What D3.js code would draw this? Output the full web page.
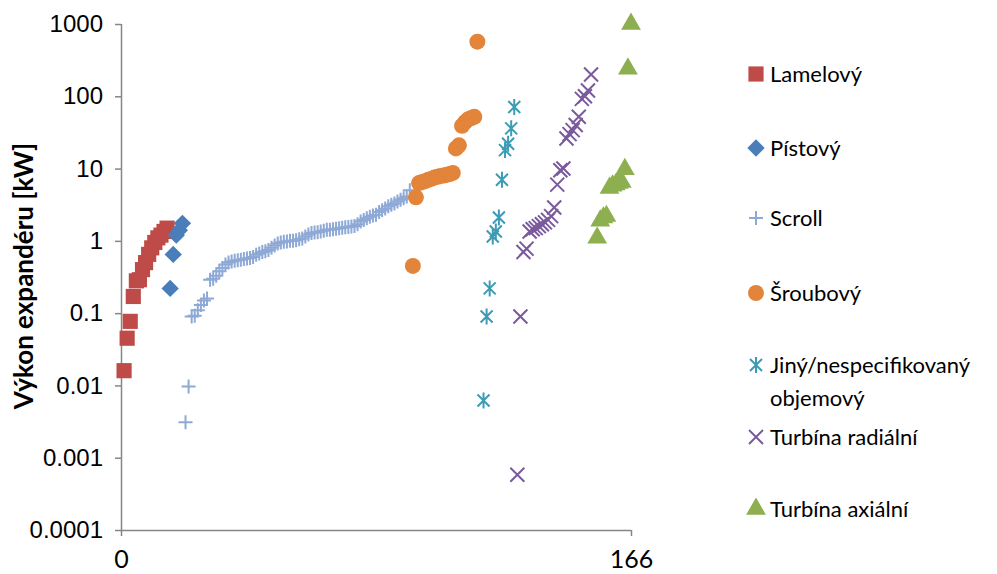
<!DOCTYPE html>
<html>
<head>
<meta charset="utf-8">
<script src="https://d3js.org/d3.v7.min.js"></script>
<style>
  body { margin: 0; background: #fff; }
  .ytick text { font-family: "Liberation Sans", Arial, sans-serif; font-size: 24px; fill: #000; }
  .xtick text { font-family: Lato, "Open Sans", sans-serif; font-size: 25px; fill: #000; }
  .legend text { font-family: Lato, "Open Sans", sans-serif; font-size: 22px; fill: #000; }
  .ytitle { font-family: Lato, "Open Sans", sans-serif; font-size: 26px; font-weight: bold; }
</style>
</head>
<body>
<div id="chart"></div>
<script>
var svgWidth = 997;
var svgHeight = 574;

// plot area in pixels
var plotLeft = 121, plotRight = 631, plotTop = 24, plotBottom = 530;

// x = order of the expander in the list, y = power in kW
var lamelX = [1, 2, 3, 4, 5, 6, 7, 8, 9, 10, 11, 12, 13, 14, 15];
var lamelY = [0.016, 0.045, 0.077, 0.17, 0.28, 0.29, 0.40, 0.50, 0.65, 0.8, 0.95, 1.1, 1.2, 1.35, 1.5];

var pistX = [16, 17, 18, 19, 20];
var pistY = [0.22, 0.65, 1.2, 1.4, 1.75];

var scrollX = [21, 22, 23, 24, 25, 26, 27, 28, 29, 30, 31, 32, 33, 34, 35, 36, 37, 38, 39, 40,
  41, 42, 43, 44, 45, 46, 47, 48, 49, 50, 51, 52, 53, 54, 55, 56, 57, 58, 59, 60,
  61, 62, 63, 64, 65, 66, 67, 68, 69, 70, 71, 72, 73, 74, 75, 76, 77, 78, 79, 80,
  81, 82, 83, 84, 85, 86, 87, 88, 89, 90, 91, 92, 93, 94];
var scrollY = [0.0031, 0.0097, 0.09, 0.092, 0.11, 0.13, 0.15, 0.16, 0.29, 0.30,
  0.33, 0.38, 0.42, 0.47, 0.50, 0.52, 0.53, 0.54, 0.55, 0.56,
  0.57, 0.58, 0.60, 0.64, 0.67, 0.70, 0.72, 0.75, 0.80, 0.86,
  0.92, 0.95, 0.97, 0.98, 1.0, 1.0, 1.02, 1.05, 1.08, 1.15,
  1.22, 1.28, 1.3, 1.32, 1.35, 1.38, 1.42, 1.43, 1.45, 1.47,
  1.5, 1.52, 1.54, 1.56, 1.58, 1.6, 1.7, 1.85, 1.95, 2.05,
  2.15, 2.25, 2.3, 2.5, 2.65, 2.8, 3.0, 3.15, 3.3, 3.5,
  3.7, 3.9, 4.1, 5.0];

var sroubX = [95, 96, 97, 98, 99, 100, 101, 102, 103, 104, 105, 106, 107, 108, 109, 110, 111, 112, 113, 114, 115, 116];
var sroubY = [0.45, 4.0, 6.3, 6.5, 6.7, 7.0, 7.2, 7.5, 7.7, 7.9, 8.0, 8.2, 8.4, 8.7, 19, 21, 39, 44, 48, 50, 52, 570];

var jinyX = [118, 119, 120, 121, 122, 123, 124, 125, 126, 127, 128];
var jinyY = [0.0062, 0.09, 0.22, 1.15, 1.35, 2.1, 7.0, 18, 22, 36, 71];

var radX = [129, 130, 131, 132, 133, 134, 135, 136, 137, 138, 139, 140, 141, 142, 143, 144,
  145, 146, 147, 148, 149, 150, 151, 152, 153];
var radY = [0.00058, 0.09, 0.70, 0.78, 1.35, 1.45, 1.5, 1.6, 1.7, 1.8, 1.95, 2.2, 2.9, 6.0, 9.5, 10,
  26, 30, 34, 40, 52, 92, 100, 120, 200];

var axX = [155, 156, 157, 158, 159, 160, 161, 162, 163, 164, 165, 166];
var axY = [1.1, 1.9, 2.1, 2.2, 5.4, 5.8, 6.0, 6.3, 6.5, 9.8, 240, 1000];

var seriesNames = ["Lamelový", "Pístový", "Scroll", "Šroubový", "Jiný/nespecifikovaný objemový",
  "Turbína radiální", "Turbína axiální"];

var yTicks = [0.0001, 0.001, 0.01, 0.1, 1, 10, 100, 1000];
var yTickLabels = ["0.0001", "0.001", "0.01", "0.1", "1", "10", "100", "1000"];
var xTicks = [0, 166];

var svg = d3.select("#chart")
  .append("svg")
  .attr("width", svgWidth)
  .attr("height", svgHeight);

var xScale = d3.scaleLinear().domain([0, 166]).range([plotLeft, plotRight]);
var yScale = d3.scaleLog().domain([0.0001, 1000]).range([plotBottom, plotTop]);

// axes
var yAxis = svg.append("g")
  .attr("class", "ytick")
  .attr("transform", `translate(${plotLeft},0)`)
  .call(d3.axisLeft(yScale).tickValues(yTicks).tickSize(6).tickPadding(12)
    .tickFormat((d, i) => yTickLabels[i]));

var xAxis = svg.append("g")
  .attr("class", "xtick")
  .attr("transform", `translate(0,${plotBottom})`)
  .call(d3.axisBottom(xScale).tickValues(xTicks).tickSize(6).tickPadding(14)
    .tickFormat(d3.format("d")));

svg.selectAll(".domain").attr("stroke", "#868686").attr("stroke-width", 1.5);
svg.selectAll(".tick line").attr("stroke", "#868686").attr("stroke-width", 1.5);
// only the axis line, no outer tick stubs
yAxis.select(".domain").attr("d", `M0.5,${plotTop}V${plotBottom}`);
xAxis.select(".domain").attr("d", `M${plotLeft},0.5H${plotRight}`);

svg.append("text")
  .attr("class", "ytitle")
  .attr("transform", "translate(33,276) rotate(-90)")
  .attr("text-anchor", "middle")
  .text("Výkon expandéru [kW]");

// marker shapes
var sq = d3.symbol().type(d3.symbolSquare).size(230)();
var dia = d3.symbol().type(d3.symbolSquare).size(150)();
var tri = d3.symbol().type(d3.symbolTriangle).size(170)();

var markers = [
  { p: sq, fill: "#BE4B48", stroke: "none", rot: 0 },
  { p: dia, fill: "#4A7EBB", stroke: "none", rot: 45 },
  { p: "M-7,0H7M0,-7V7", fill: "none", stroke: "#8EA9D6", rot: 0 },
  { p: d3.symbol().type(d3.symbolCircle).size(200)(), fill: "#E2843A", stroke: "none", rot: 0 },
  { p: "M-6,-6L6,6M-6,6L6,-6M0,-8V8", fill: "none", stroke: "#3D9BB5", rot: 0 },
  { p: "M-7,-7L7,7M-7,7L7,-7", fill: "none", stroke: "#7A5A9D", rot: 0 },
  { p: tri, fill: "#8DAF4F", stroke: "none", rot: 0 }
];

var allX = [lamelX, pistX, scrollX, sroubX, jinyX, radX, axX];
var allY = [lamelY, pistY, scrollY, sroubY, jinyY, radY, axY];

allX.forEach(function(xs, s) {
  var m = markers[s];
  var pts = xs.map((x, i) => ({ x: x, y: allY[s][i] }));
  svg.append("g").selectAll("path")
    .data(pts)
    .enter()
    .append("path")
    .attr("d", m.p)
    .attr("transform", d => `translate(${xScale(d.x)},${yScale(d.y)}) rotate(${m.rot})`)
    .attr("fill", m.fill)
    .attr("stroke", m.stroke)
    .attr("stroke-width", 2);
});

// legend
var legendY = [74, 148, 218, 293, 365, 437, 509];
var legend = svg.append("g").attr("class", "legend");
seriesNames.forEach(function(name, s) {
  var m = markers[s];
  legend.append("path")
    .attr("d", m.p)
    .attr("transform", `translate(756,${legendY[s]}) rotate(${m.rot})`)
    .attr("fill", m.fill)
    .attr("stroke", m.stroke)
    .attr("stroke-width", 2);
  var t = legend.append("text")
    .attr("x", 770)
    .attr("y", legendY[s] + 8);
  if (s === 4) {
    t.append("tspan").attr("x", 770).text("Jiný/nespecifikovaný");
    t.append("tspan").attr("x", 770).attr("dy", 33).text("objemový");
  } else {
    t.text(name);
  }
});
</script>
</body>
</html>
